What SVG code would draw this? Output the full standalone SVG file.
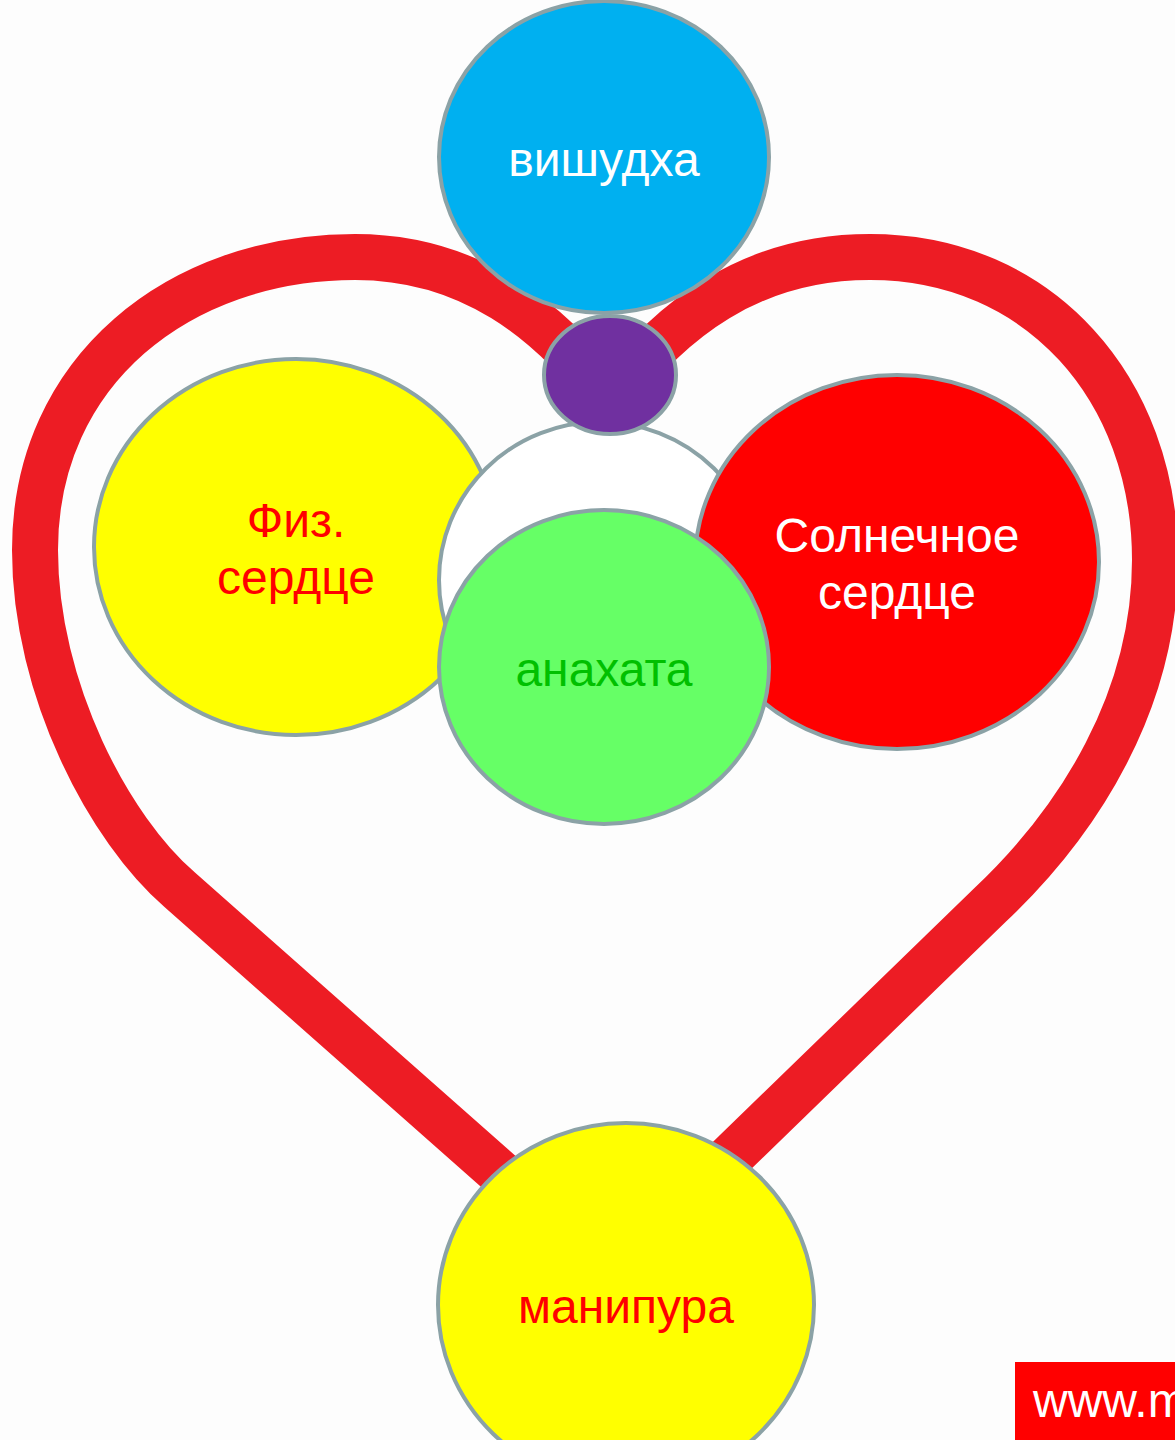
<svg xmlns="http://www.w3.org/2000/svg" width="1175" height="1440" viewBox="0 0 1175 1440">
<style>
.c{stroke:#8ba2a6;stroke-width:4}
.t{font-family:"Liberation Sans",Arial,sans-serif;font-size:48px;text-anchor:middle}
</style>
<rect width="1175" height="1440" fill="#fdfdfd"/>
<g id="connectors">
<path id="heart" d="M 612 1272 L 180 890 C 110 830 35 690 35 550 C 35 370 180 257 355 257 C 470 257 550 320 610 400 C 670 320 750 257 870 257 C 1040 257 1155 390 1155 560 C 1155 700 1080 820 990 905 Z" fill="none" stroke="#ed1c24" stroke-width="46" stroke-linejoin="round"/>
</g>
<g id="vishuddha">
<ellipse class="c" cx="604" cy="157" rx="165" ry="156" fill="#00b0f0"/>
<text class="t" x="604" y="176" fill="#ffffff">вишудха</text>
</g>
<g id="fiz">
<ellipse class="c" cx="296" cy="547" rx="202" ry="188" fill="#ffff00"/>
<text class="t" x="296" y="537" fill="#ff0000">Физ.</text>
<text class="t" x="296" y="594" fill="#ff0000">сердце</text>
</g>
<g id="white">
<ellipse class="c" cx="600" cy="580" rx="161" ry="158" fill="#ffffff"/>
</g>
<g id="purple">
<ellipse class="c" cx="610" cy="375" rx="66" ry="59" fill="#7030a0"/>
</g>
<g id="solar">
<ellipse class="c" cx="897" cy="562" rx="202" ry="187" fill="#ff0000"/>
<text class="t" x="897" y="552" fill="#ffffff">Солнечное</text>
<text class="t" x="897" y="609" fill="#ffffff">сердце</text>
</g>
<g id="anahata">
<ellipse class="c" cx="604" cy="667" rx="165" ry="157" fill="#66ff66"/>
<text class="t" x="604" y="686" fill="#00c000">анахата</text>
</g>
<g id="manipura">
<ellipse class="c" cx="626" cy="1305" rx="188" ry="182" fill="#ffff00"/>
<text class="t" x="626" y="1323" fill="#ff0000">манипура</text>
</g>
<g id="url">
<rect x="1015" y="1362" width="160" height="78" fill="#ff0000"/>
<text x="1033" y="1417" font-family="Liberation Sans,Arial,sans-serif" font-size="48" fill="#ffffff">www.m</text>
</g>
</svg>
